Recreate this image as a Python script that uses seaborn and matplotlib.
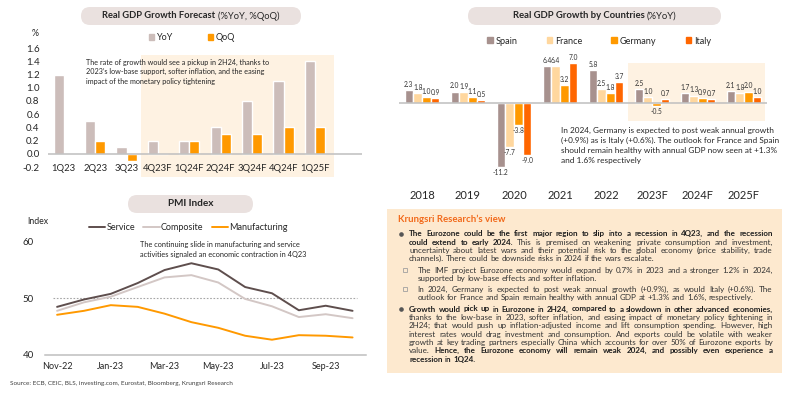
import numpy as np
import pandas as pd
import matplotlib
matplotlib.use("Agg")
import matplotlib.pyplot as plt
import seaborn as sns
from matplotlib import font_manager
from matplotlib.patches import Rectangle, FancyBboxPatch, Patch
from matplotlib.lines import Line2D
from matplotlib.ticker import FormatStrFormatter

# ---------------- data ----------------
quarters = ['1Q23', '2Q23', '3Q23', '4Q23F', '1Q24F', '2Q24F', '3Q24F', '4Q24F', '1Q25F']
gdp_yoy = [1.2, 0.5, 0.1, 0.2, 0.2, 0.4, 0.8, 1.1, 1.4]
gdp_qoq = [0.0, 0.2, -0.1, 0.0, 0.2, 0.3, 0.3, 0.4, 0.4]

years = ['2018', '2019', '2020', '2021', '2022', '2023F', '2024F', '2025F']
spain = [2.3, 2.0, -11.2, 6.4, 5.8, 2.5, 1.7, 2.1]
france = [1.8, 1.9, -7.7, 6.4, 2.5, 1.0, 1.3, 1.8]
germany = [1.0, 1.1, -3.8, 3.2, 1.8, -0.5, 0.9, 2.0]
italy = [0.9, 0.5, -9.0, 7.0, 3.7, 0.7, 0.7, 1.0]
countries = ['Spain', 'France', 'Germany', 'Italy']

months = ['Nov-22', 'Dec-22', 'Jan-23', 'Feb-23', 'Mar-23', 'Apr-23',
          'May-23', 'Jun-23', 'Jul-23', 'Aug-23', 'Sep-23', 'Oct-23']
pmi_service = [48.5, 49.8, 50.8, 52.7, 55.0, 56.2, 55.1, 52.0, 50.9, 47.9, 48.7, 47.8]
pmi_composite = [47.8, 49.3, 50.3, 52.0, 53.7, 54.1, 52.8, 49.9, 48.6, 46.7, 47.2, 46.5]
pmi_manufacturing = [47.1, 47.8, 48.8, 48.5, 47.3, 45.8, 44.8, 43.4, 42.7, 43.5, 43.4, 43.1]
pmi_series = ['Service', 'Composite', 'Manufacturing']

# ---------------- style ----------------
sns.set_theme(style="white")
plt.rcParams['font.family'] = ['Lato', 'DejaVu Sans']
_installed = {f.name for f in font_manager.fontManager.ttflist}
if 'Liberation Sans Narrow' in _installed:
    LABEL_FONT, LABEL_SIZE = ['Liberation Sans Narrow', 'DejaVu Sans'], 5.6
else:
    LABEL_FONT, LABEL_SIZE = ['Lato', 'DejaVu Sans'], 4.8

TXT = '#262626'
C_YOY, C_QOQ = '#CCBDBA', '#FF9900'
C_COUNTRY = ['#A7918E', '#FFD79E', '#FF9900', '#FF6600']
C_PMI = ['#5E4E4D', '#D3C7C5', '#FF9900']
SHADE = '#FEF2E2'
PILL = '#EAE1DF'
AXLINE = '#BFBFBF'

W, H = 800, 393
fig = plt.figure(figsize=(W / 100, H / 100), dpi=100)
fig.patch.set_facecolor('white')


def ax_at(x0, y0, x1, y1):
    a = fig.add_axes([x0 / W, 1 - y1 / H, (x1 - x0) / W, (y1 - y0) / H])
    a.patch.set_alpha(0)
    for s in a.spines.values():
        s.set_visible(False)
    return a


canvas = fig.add_axes([0, 0, 1, 1], zorder=10)
canvas.set_xlim(0, W)
canvas.set_ylim(H, 0)
canvas.axis('off')
canvas.patch.set_alpha(0)
renderer = fig.canvas.get_renderer()


def text_w(s, size, weight='normal'):
    t = canvas.text(0, 0, s, fontsize=size, fontweight=weight)
    w = t.get_window_extent(renderer).width
    t.remove()
    return w


def space_w(size, weight='normal'):
    return text_w('a a', size, weight) - text_w('aa', size, weight)


def fit(s, target, weight='normal'):
    return 10.0 * target / text_w(s, 10, weight)


def pill(x0, x1, y0, y1, parts, target):
    h = y1 - y0
    canvas.add_patch(FancyBboxPatch((x0, y0), x1 - x0, h,
                                    boxstyle=f"round,pad=0,rounding_size={h / 2}",
                                    fc=PILL, ec='none'))
    base = sum(text_w(s, 10, w) for s, w in parts) + space_w(10) * (len(parts) - 1)
    size = 10.0 * target / base
    widths = [text_w(s, size, w) for s, w in parts]
    total = sum(widths) + space_w(size) * (len(parts) - 1)
    x = (x0 + x1) / 2 - total / 2
    for (s, w), ww in zip(parts, widths):
        canvas.text(x, (y0 + y1) / 2, s, fontsize=size, fontweight=w,
                    ha='left', va='center', color=TXT)
        x += ww + space_w(size)


def text_lines(x, ys, lines, target, color=TXT):
    size = fit(lines[0], target)
    for y, s in zip(ys, lines):
        canvas.text(x, y, s, fontsize=size, ha='left', va='center', color=color)


# ============ Panel 1: Real GDP Growth Forecast ============
pill(81, 301, 7, 25, [("Real GDP Growth Forecast", 'bold'), ("(%YoY, %QoQ)", 'normal')], 178)
ax1 = ax_at(48, 41.4, 362, 179.1)
df1 = pd.DataFrame({'quarter': quarters * 2,
                    'series': ['YoY'] * len(quarters) + ['QoQ'] * len(quarters),
                    'value': gdp_yoy + gdp_qoq})
ax1.add_patch(Rectangle((2.47, -0.35), 8.6 - 2.47, 1.85, fc=SHADE, ec='none', zorder=0))
sns.barplot(data=df1, x='quarter', y='value', hue='series', palette=[C_YOY, C_QOQ],
            width=0.64, saturation=1, legend=False, ax=ax1, zorder=2)
ax1.axhline(0, color=AXLINE, lw=1.1, zorder=3)
ax1.set_xlim(-0.5, 9.5)
ax1.set_ylim(-0.38, 1.7)
ax1.set_yticks(np.round(np.arange(-0.2, 1.61, 0.2), 1))
ax1.yaxis.set_major_formatter(FormatStrFormatter('%.1f'))
ax1.tick_params(axis='y', length=0, pad=6, labelsize=7, labelcolor=TXT)
ax1.tick_params(axis='x', length=0, labelbottom=False)
ax1.set_xlabel('')
ax1.set_ylabel('')
for i, q in enumerate(quarters):
    ax1.text(i, -0.2, q, ha='center', va='center_baseline', fontsize=6.8, color=TXT)
canvas.text(35, 33, '%', ha='center', va='center', fontsize=6.3, color=TXT)
fig.legend(handles=[Patch(color=C_YOY, label='YoY'), Patch(color=C_QOQ, label='QoQ')],
           loc='center left', bbox_to_anchor=(149 / W, 1 - 38 / H), ncol=2, frameon=False,
           fontsize=6.5, handlelength=0.6, handleheight=0.6, handletextpad=0.3,
           columnspacing=3.8, borderpad=0, borderaxespad=0, labelcolor=TXT)
text_lines(86, [62.3, 71.7, 81.3],
           ["The rate of growth would see a pickup in 2H24, thanks to",
            "2023\u2019s low-base support, softer inflation, and the easing",
            "impact of the monetary policy tightening"], 184)

# ============ Panel 2: Real GDP Growth by Countries ============
pill(468, 721, 7, 25, [("Real GDP Growth by Countries", 'bold'), ("(%YoY)", 'normal')], 165)
ax2 = ax_at(399, 50, 767, 187)
df2 = pd.DataFrame({'year': years * 4,
                    'country': sum([[c] * len(years) for c in countries], []),
                    'value': spain + france + germany + italy})
ax2.add_patch(Rectangle((4.48, -3.15), 7.46 - 4.48, 10.15, fc=SHADE, ec='none', zorder=0))
sns.barplot(data=df2, x='year', y='value', hue='country', palette=C_COUNTRY,
            width=0.76, saturation=1, legend=False, ax=ax2, zorder=2)
for cont in ax2.containers:
    ax2.bar_label(cont, fmt='%.1f', fontsize=LABEL_SIZE, padding=1.5, color='#333333',
                  family=LABEL_FONT)
ax2.axhline(0, color=AXLINE, lw=1.1, zorder=3)
ax2.set_xlim(-0.5, 7.5)
ax2.set_ylim(-14.66, 9.25)
ax2.set_yticks([])
ax2.tick_params(axis='x', length=0, pad=2, labelsize=8, labelcolor=TXT)
ax2.set_xlabel('')
ax2.set_ylabel('')
fig.legend(handles=[Patch(color=c, label=n) for c, n in zip(C_COUNTRY, countries)],
           loc='center left', bbox_to_anchor=(487 / W, 1 - 41 / H), ncol=4, frameon=False,
           fontsize=6.6, handlelength=0.6, handleheight=0.6, handletextpad=0.3,
           columnspacing=3.2, borderpad=0, borderaxespad=0, labelcolor=TXT)
text_lines(561, [130, 140, 150, 160],
           ["In 2024, Germany is expected to post weak annual growth",
            "(+0.9%) as is Italy (+0.6%). The outlook for France and Spain",
            "should remain healthy with annual GDP now seen at +1.3%",
            "and 1.6% respectively"], 212)

# ============ Panel 3: PMI Index ============
pill(128, 253, 195, 213, [("PMI Index", 'bold')], 46)
ax3 = ax_at(45, 230.4, 366, 355)
idx = list(range(len(months)))
df3 = pd.DataFrame({'month': idx * 3,
                    'series': sum([[s] * len(months) for s in pmi_series], []),
                    'value': pmi_service + pmi_composite + pmi_manufacturing})
ax3.axhline(50, xmin=(0.3) / 11.95, xmax=(11.6) / 11.95, color='#A6A6A6', lw=0.8, ls=(0, (1.5, 1.5)))
sns.lineplot(data=df3, x='month', y='value', hue='series', hue_order=pmi_series,
             palette=C_PMI, linewidth=1.4, legend=False, ax=ax3)
ax3.set_xlim(-0.45, 11.5)
ax3.set_ylim(40, 62)
ax3.spines['bottom'].set_visible(True)
ax3.spines['bottom'].set_color(AXLINE)
ax3.spines['bottom'].set_linewidth(1.1)
ax3.set_yticks([40, 50, 60])
ax3.set_xticks(idx[::2])
ax3.set_xticklabels(months[::2])
ax3.tick_params(axis='y', length=0, pad=8, labelsize=7, labelcolor=TXT)
ax3.tick_params(axis='x', length=0, pad=5, labelsize=6.5, labelcolor=TXT)
ax3.set_xlabel('')
ax3.set_ylabel('')
canvas.text(27, 222, 'Index', ha='left', va='center', fontsize=6.3, color=TXT)
fig.legend(handles=[Line2D([], [], color=c, lw=1.4, label=n) for c, n in zip(C_PMI, pmi_series)],
           loc='center left', bbox_to_anchor=(89 / W, 1 - 228 / H), ncol=3, frameon=False,
           fontsize=6.5, handlelength=1.8, handletextpad=0.15, columnspacing=0.9,
           borderpad=0, borderaxespad=0, labelcolor=TXT)
text_lines(140, [244.3, 254],
           ["The continuing slide in manufacturing and service",
            "activities signaled an economic contraction in 4Q23"], 159)

# ============ Panel 4: Krungsri Research's view ============
canvas.add_patch(Rectangle((387, 209), 395, 164, fc='#FDE9CF', ec='none'))
canvas.text(398, 219, "Krungsri Research\u2019s view", fontsize=fit("Krungsri Research\u2019s view", 108, 'bold'),
            fontweight='bold', color='#F26A1B', ha='left', va='center')

B, N = 'bold', 'normal'
blocks = [
    ('bullet', 409, [233.7, 242.1, 250.5, 258.9], [
        [(B, "The Eurozone could be the first major region to slip into a recession in 4Q23, and the recession")],
        [(B, "could extend to early 2024."), (N, "This is premised on weakening private consumption and investment,")],
        [(N, "uncertainty about latest wars and their potential risk to the global economy (price stability, trade")],
        [(N, "channels). There could be downside risks in 2024 if the wars escalate.")],
    ]),
    ('sub', 417.7, [270.3, 278.7], [
        [(N, "The IMF project Eurozone economy would expand by 0.7% in 2023 and a stronger 1.2% in 2024,")],
        [(N, "supported by low-base effects and softer inflation.")],
    ]),
    ('sub', 417.7, [289.3, 297.7], [
        [(N, "In 2024, Germany is expected to post weak annual growth (+0.9%), as would Italy (+0.6%). The")],
        [(N, "outlook for France and Spain remain healthy with annual GDP at +1.3% and 1.6%, respectively.")],
    ]),
    ('bullet', 409, [309, 317.35, 325.7, 334.05, 342.4, 350.75, 359.1], [
        [(B, "Growth would pick up in Eurozone in 2H24, compared to a slowdown in other advanced economies,")],
        [(N, "thanks to the low-base in 2023, softer inflation, and easing impact of monetary policy tightening in")],
        [(N, "2H24; that would push up inflation-adjusted income and lift consumption spending. However, high")],
        [(N, "interest rates would drag investment and consumption. And exports could be volatile with weaker")],
        [(N, "growth at key trading partners especially China which accounts for over 50% of Eurozone exports by")],
        [(N, "value."), (B, "Hence, the Eurozone economy will remain weak 2024, and possibly even experience a")],
        [(B, "recession in 1Q24.")],
    ]),
]
X_RIGHT = 772.7


def tokens_of(line):
    out = []
    for wt, seg in line:
        out += [(w, wt) for w in seg.split()]
    return out


ratios = []
for kind, x0, ys, lines in blocks:
    for line in lines[:-1]:
        toks = tokens_of(line)
        nat = sum(text_w(w, 10, wt) for w, wt in toks) + space_w(10) * (len(toks) - 1)
        ratios.append((X_RIGHT - x0) / nat)
BODY = 10 * min(ratios) * 0.99
BODY_C = '#333333'
sp_body = space_w(BODY)

for kind, x0, ys, lines in blocks:
    if kind == 'bullet':
        canvas.plot(400.5, ys[0], 'o', ms=2.3, color='#555555')
    else:
        canvas.plot(405, ys[0], 's', ms=2.4, mfc='none', mec='#A0A0A0', mew=0.6)
    for li, (y, line) in enumerate(zip(ys, lines)):
        toks = tokens_of(line)
        widths = [text_w(w, BODY, wt) for w, wt in toks]
        if li < len(lines) - 1 and len(toks) > 1:
            gap = (X_RIGHT - x0 - sum(widths)) / (len(toks) - 1)
        else:
            gap = sp_body
        x = x0
        for (w, wt), ww in zip(toks, widths):
            canvas.text(x, y, w, fontsize=BODY, fontweight=wt, ha='left', va='center',
                        color='#1F1F1F' if wt == B else BODY_C)
            x += ww + gap

src = "Source: ECB, CEIC, BLS, investing.com, Eurostat, Bloomberg, Krungsri Research"
canvas.text(10, 383, src, fontsize=fit(src, 223), ha='left', va='center', color='#404040')

fig.savefig('out.png', dpi=100)
